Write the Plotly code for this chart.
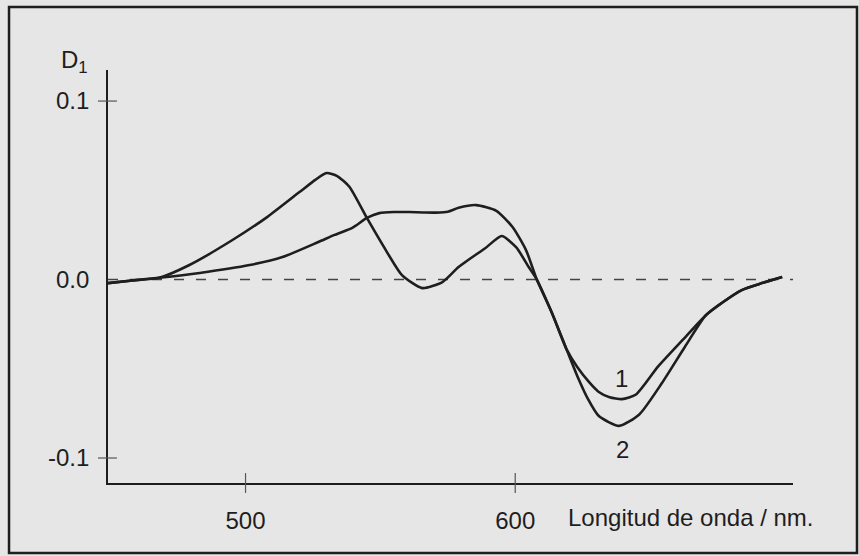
import plotly.graph_objects as go

# ---- data ----
wl_1 = [449, 458, 468, 483, 501.5, 513.7, 527, 533, 539.6, 545, 549.6, 555, 560.7, 566, 570.7,
        575, 579, 585.5, 593, 599, 604, 608, 613.7, 619, 623, 627.4, 631, 635, 639.6, 644.8,
        653, 662, 670.7, 676.7, 684, 691.5, 699]
d1_1 = [-0.002, -0.0005, 0.001, 0.0037, 0.0081, 0.0126, 0.021, 0.025, 0.029, 0.0345, 0.0372,
        0.0378, 0.0378, 0.0376, 0.0375, 0.038, 0.0402, 0.0417, 0.0385, 0.0294, 0.0165, 0.0,
        -0.019, -0.039, -0.049, -0.0575, -0.063, -0.066, -0.067, -0.0644, -0.0487, -0.034,
        -0.020, -0.013, -0.0059, -0.002, 0.0014]

wl_2 = [449, 458, 468, 479, 495, 508, 520, 526, 530, 534, 538.5, 545, 552, 558, 565.5, 573,
        579, 589, 595, 600.4, 605, 608, 613.7, 619, 623, 627, 631, 638.5, 646, 654.4, 663,
        670.7, 676.7, 684, 691.5, 699]
d1_2 = [-0.002, -0.0005, 0.001, 0.008, 0.022, 0.035, 0.049, 0.056, 0.0597, 0.058, 0.052,
        0.0345, 0.0165, 0.0025, -0.0048, -0.0014, 0.007, 0.0177, 0.0244, 0.018, 0.007, 0.0,
        -0.019, -0.039, -0.054, -0.067, -0.0765, -0.082, -0.0756, -0.058, -0.0375, -0.020,
        -0.013, -0.0059, -0.002, 0.0014]

curve_labels = ["1", "2"]
label_pos_wl = [639.3, 639.8]
label_pos_d = [-0.0552, -0.095]

x_tickvals = [500, 600]
x_ticktext = ["500", "600"]
y_tickvals = [0.1, 0.0, -0.1]
y_ticktext = ["0.1", "0.0", "-0.1"]

x_range = [449, 703]
y_range = [-0.114, 0.1174]

INK = "#1e1e1e"
BG = "#e6e6e6"
FONT = "Liberation Sans, Arial, sans-serif"
FS = 24

fig = go.Figure()
for wl, d in [(wl_1, d1_1), (wl_2, d1_2)]:
    fig.add_trace(go.Scatter(x=wl, y=d, mode="lines",
                             line=dict(color=INK, width=2.6, shape="spline", smoothing=0.6),
                             showlegend=False, hoverinfo="skip"))

shapes = []
# dashed zero line
shapes.append(dict(type="line", xref="x domain", yref="y", x0=0, x1=1, y0=0, y1=0,
                   line=dict(color="#444", width=1.6, dash="10px,12px"), layer="below"))
# crossing tick marks
for v in y_tickvals:
    if v == 0:
        continue
    shapes.append(dict(type="line", xref="x domain", yref="y", x0=-0.0146, x1=0.013,
                       y0=v, y1=v, line=dict(color="#555", width=1.2)))
for v in x_tickvals:
    shapes.append(dict(type="line", xref="x", yref="y domain", x0=v, x1=v,
                       y0=-0.024, y1=0.024, line=dict(color="#555", width=1.2)))
# outer frame
shapes.append(dict(type="rect", xref="paper", yref="paper", x0=-0.1445, x1=1.0934,
                   y0=-0.1695, y1=1.1525, line=dict(color=INK, width=2.5)))

annotations = []
for t, xw, yd in zip(curve_labels, label_pos_wl, label_pos_d):
    annotations.append(dict(x=xw, y=yd, xref="x", yref="y", text=t, showarrow=False,
                            font=dict(family=FONT, size=FS, color=INK)))
annotations.append(dict(x=0.668, y=-0.0847, xref="paper", yref="paper",
                        text="Longitud de onda / nm.", showarrow=False,
                        xanchor="left", yanchor="middle",
                        font=dict(family=FONT, size=FS, color=INK)))
annotations.append(dict(x=-0.072, y=1.02, xref="paper", yref="paper",
                        text="D<sub>1</sub>", showarrow=False,
                        xanchor="left", yanchor="middle",
                        font=dict(family=FONT, size=FS, color=INK)))

fig.update_layout(
    width=859, height=556,
    margin=dict(l=108, r=66, t=70, b=73),
    paper_bgcolor=BG, plot_bgcolor=BG,
    font=dict(family=FONT, size=FS, color=INK),
    shapes=shapes, annotations=annotations,
    xaxis=dict(range=x_range, tickvals=x_tickvals, ticktext=x_ticktext,
               showgrid=False, zeroline=False, showline=True, linecolor=INK, linewidth=1.6,
               ticks="", ticklabelstandoff=15, tickfont=dict(size=FS)),
    yaxis=dict(range=y_range, tickvals=y_tickvals, ticktext=y_ticktext,
               showgrid=False, zeroline=False, showline=True, linecolor=INK, linewidth=1.6,
               ticks="", ticklabelstandoff=12, tickfont=dict(size=FS)),
)

fig.write_html("out.html")
